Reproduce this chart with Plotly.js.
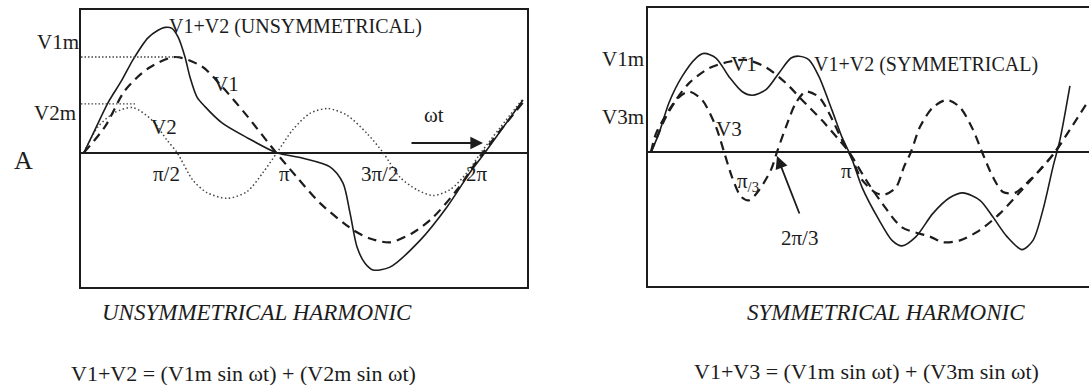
<!DOCTYPE html>
<html>
<head>
<meta charset="utf-8">
<script src="https://cdn.plot.ly/plotly-3.0.1.min.js"></script>
<style>
  html, body { margin: 0; padding: 0; background: #fff; }
  #chart { width: 1089px; height: 385px; }
</style>
</head>
<body>
<div id="chart"></div>
<script>
// wt in degrees, amplitude in units of V1m

// unsymmetrical harmonic (left)
const unsymSumX = [0, 10.0, 21.7, 34.4, 44.3, 57.9, 67.0, 73.3, 79.6, 85.1, 91.4, 95.9, 102.3, 109.5, 124.9, 148.4, 173.8, 198.2, 222.6, 234.4, 240.7, 247.1, 254.3, 261.5, 276.9, 304.1, 328.5, 349.3, 362.9, 397.3];
const unsymSumY = [0, 0.24, 0.52, 0.76, 0.97, 1.20, 1.28, 1.31, 1.30, 1.21, 1.00, 0.79, 0.58, 0.48, 0.31, 0.15, 0, -0.06, -0.15, -0.32, -0.63, -0.99, -1.16, -1.23, -1.20, -0.92, -0.57, -0.21, 0, 0.55];

const unsymV1X = [0, 19.0, 37.1, 57.9, 82.4, 106.8, 124.9, 145.7, 173.8, 192.8, 213.6, 243.4, 258.8, 276.9, 297.7, 315.8, 337.6, 361.1, 399.1];
const unsymV1Y = [0, 0.27, 0.65, 0.88, 1.00, 0.90, 0.69, 0.41, 0, -0.26, -0.53, -0.81, -0.90, -0.94, -0.84, -0.68, -0.39, 0, 0.55];

const unsymV2X = [0, 12.7, 28.1, 44.3, 61.5, 75.1, 84.2, 98.6, 111.3, 129.4, 147.5, 162.0, 174.7, 189.1, 204.5, 220.8, 238.0, 256.1, 270.6, 286.0, 301.4, 315.8, 331.2, 346.6, 359.3, 376.5, 396.4];
const unsymV2Y = [0, 0.27, 0.42, 0.47, 0.34, 0.13, 0, -0.29, -0.42, -0.48, -0.41, -0.21, 0, 0.24, 0.41, 0.46, 0.39, 0.20, 0, -0.26, -0.39, -0.45, -0.39, -0.21, 0, 0.26, 0.55];

// symmetrical harmonic (right)
const symSumX = [0, 7.1, 16.0, 27.6, 40.1, 47.2, 57.9, 69.5, 81.1, 90.0, 102.5, 114.1, 124.8, 131.9, 140.8, 149.7, 161.3, 170.2, 178.3, 188.1, 203.2, 214.8, 223.7, 236.2, 251.3, 266.5, 278.1, 293.2, 304.8, 317.3, 330.7, 340.5, 349.4, 358.3, 364.5, 373.4];
const symSumY = [0, 0.20, 0.53, 0.81, 1.01, 1.06, 1.01, 0.81, 0.65, 0.61, 0.67, 0.85, 1.01, 1.03, 0.99, 0.81, 0.45, 0.16, -0.05, -0.38, -0.73, -0.95, -1.01, -0.91, -0.66, -0.49, -0.44, -0.52, -0.70, -0.91, -1.05, -0.95, -0.62, -0.16, 0.13, 0.71];

const symV1X = [0, 4.5, 16.0, 33.9, 51.7, 69.5, 84.7, 102.5, 120.3, 134.6, 152.4, 167.6, 176.5, 191.6, 205.9, 223.7, 248.7, 260.2, 275.4, 293.2, 311.1, 328.9, 346.7, 360.1, 373.4, 390.4];
const symV1Y = [0, 0.20, 0.45, 0.74, 0.90, 0.97, 0.99, 0.91, 0.74, 0.56, 0.34, 0.13, 0, -0.30, -0.55, -0.81, -0.91, -0.97, -0.95, -0.84, -0.66, -0.43, -0.19, 0, 0.24, 0.56];

const symV3X = [0, 13.4, 25.0, 33.9, 45.5, 57.9, 65.1, 72.2, 80.2, 87.3, 96.3, 107.0, 112.3, 120.3, 129.2, 138.1, 149.7, 158.6, 170.2, 178.3, 188.1, 200.5, 207.7, 218.4, 225.5, 231.7, 239.8, 251.3, 263.8, 275.4, 287.0, 295.0, 304.8, 313.7, 324.4, 337.8, 349.4, 360.1, 367.2];
const symV3Y = [0, 0.38, 0.59, 0.65, 0.56, 0.27, 0, -0.27, -0.48, -0.52, -0.41, -0.19, 0, 0.27, 0.53, 0.65, 0.59, 0.42, 0.13, -0.05, -0.30, -0.44, -0.46, -0.38, -0.16, 0, 0.27, 0.48, 0.56, 0.48, 0.24, 0, -0.27, -0.43, -0.44, -0.30, -0.16, 0, 0.13];

const V1m = 1.0;
const V2m = 0.51;

const W = 1089, H = 385;
const INK = '#1c1c1c';
const FONT = 'Liberation Serif';

const solid = { color: INK, width: 1.6, shape: 'spline', smoothing: 0.8 };
const dashed = { color: INK, width: 2.2, dash: '9px,6px', shape: 'spline', smoothing: 0.8 };
const dotted = { color: '#444', width: 1.5, dash: '1.5px,2.5px', shape: 'spline', smoothing: 0.8 };

function trace(x, y, line, ax) {
  return { x, y, type: 'scatter', mode: 'lines', line,
           xaxis: ax ? 'x2' : 'x', yaxis: ax ? 'y2' : 'y',
           hoverinfo: 'skip', showlegend: false };
}

const data = [
  trace(unsymV2X, unsymV2Y, dotted, false),
  trace(unsymV1X, unsymV1Y, dashed, false),
  trace(unsymSumX, unsymSumY, solid, false),
  trace(symV3X, symV3Y, dashed, true),
  trace(symV1X, symV1Y, dashed, true),
  trace(symSumX, symSumY, solid, true),
];

// text placed by pixel position in the 1089x385 picture
function label(text, px, py, size, extra) {
  return Object.assign({
    text, x: px / W, y: 1 - py / H, xref: 'paper', yref: 'paper',
    xanchor: 'center', yanchor: 'middle', showarrow: false,
    font: { family: FONT, size: size || 21, color: INK },
  }, extra || {});
}

const annotations = [
  // left panel
  label('V1+V2 (UNSYMMETRICAL)', 295, 26, 20),
  label('V1m', 58, 42),
  label('V2m', 55, 113),
  label('A', 23, 160, 26),
  label('V1', 226, 84),
  label('V2', 164, 127),
  label('ωt', 434, 115),
  label('π/2', 166, 174),
  label('π', 284, 174),
  label('3π/2', 379, 174),
  label('2π', 477, 174),
  label('<i>UNSYMMETRICAL HARMONIC</i>', 257, 312, 23),
  label('V1+V2 = (V1m sin ωt) + (V2m sin ωt)', 243, 373, 22),
  // right panel
  label('V1m', 623, 59),
  label('V3m', 623, 117),
  label('V1', 744, 64),
  label('V3', 729, 129),
  label('V1+V2 (SYMMETRICAL)', 926, 65, 20),
  label('π', 846, 171),
  label('π<sub>/3</sub>', 748, 182),
  label('2π/3', 800, 238),
  label('<i>SYMMETRICAL HARMONIC</i>', 886, 312, 23),
  label('V1+V3 = (V1m sin ωt) + (V3m sin ωt)', 866, 371, 22),
  // arrows
  { x: 483 / W, y: 1 - 143 / H, xref: 'paper', yref: 'paper', text: '',
    showarrow: true, arrowhead: 2, arrowsize: 1.4, arrowwidth: 1.8, arrowcolor: INK,
    axref: 'pixel', ayref: 'pixel', ax: -73, ay: 0 },
  { x: 777 / W, y: 1 - 156 / H, xref: 'paper', yref: 'paper', text: '',
    showarrow: true, arrowhead: 2, arrowsize: 1.4, arrowwidth: 1.8, arrowcolor: INK,
    axref: 'pixel', ayref: 'pixel', ax: 23, ay: 59 },
];

const shapes = [
  { type: 'line', xref: 'x', yref: 'y', x0: -2.7, x1: 88.7, y0: V1m, y1: V1m,
    line: { color: '#444', width: 1.3, dash: '1.5px,2px' } },
  { type: 'line', xref: 'x', yref: 'y', x0: -2.7, x1: 46.2, y0: V2m, y1: V2m,
    line: { color: '#444', width: 1.3, dash: '1.5px,2px' } },
];

const baseX = { showgrid: false, zeroline: false, showticklabels: false, ticks: '',
                showline: true, linecolor: INK, linewidth: 2, mirror: true, fixedrange: true };
const baseY = { showgrid: false, zeroline: true, zerolinecolor: INK, zerolinewidth: 2,
                showticklabels: false, ticks: '', showline: true, linecolor: INK,
                linewidth: 2, fixedrange: true };

const layout = {
  width: W, height: H,
  margin: { l: 0, r: 0, t: 0, b: 0 },
  paper_bgcolor: '#fff', plot_bgcolor: '#fff',
  font: { family: FONT, color: INK },
  xaxis: Object.assign({}, baseX, { domain: [81 / W, 527 / W], range: [-2.7, 400.9] }),
  yaxis: Object.assign({}, baseY, { domain: [1 - 287 / H, 1 - 10 / H], range: [-1.408, 1.492], mirror: true }),
  xaxis2: Object.assign({}, baseX, { domain: [648 / W, 1], range: [-2.7, 390.4], anchor: 'y2' }),
  yaxis2: Object.assign({}, baseY, { domain: [1 - 286 / H, 1 - 8 / H], range: [-1.441, 1.548], anchor: 'x2', mirror: false }),
  annotations,
  shapes,
};

Plotly.newPlot('chart', data, layout, { displayModeBar: false, staticPlot: true });
</script>
</body>
</html>
